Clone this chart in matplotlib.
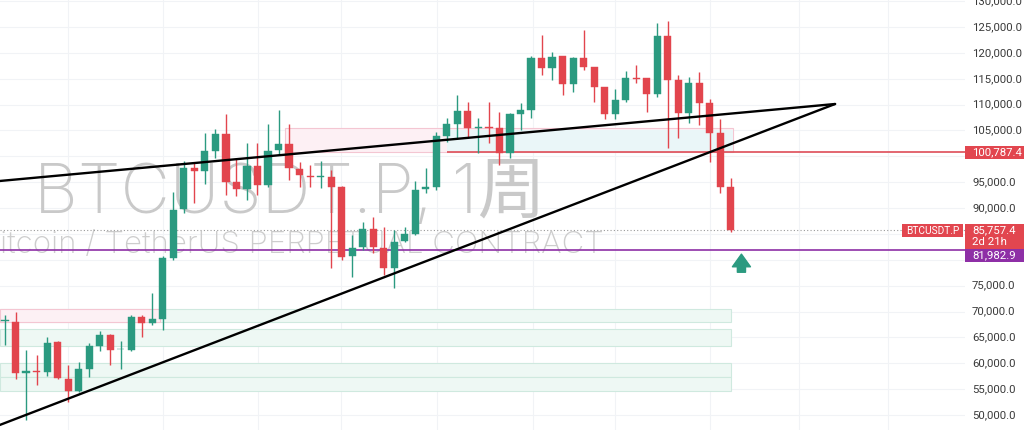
#!/usr/bin/env python3
"""
BTCUSDT.P weekly candles with trend lines and zones (TradingView style)
"""

import matplotlib
matplotlib.use('Agg')
import matplotlib.pyplot as plt
from matplotlib.patches import Rectangle
from matplotlib.transforms import blended_transform_factory
import numpy as np

# Weekly OHLC
opens = [68150, 68044, 58100, 58550, 58260, 64060, 57030, 54650, 58900, 63350,
         65420, 62670, 62570, 68890, 67740, 68570, 80300, 89770, 97690, 97170,
         101090, 104320, 95100, 93630, 98140, 94460, 101230, 102390, 97560, 96200,
         96010, 96070, 94020, 80740, 82420, 85900, 82230, 78360, 83640, 84990,
         93690, 94020, 103930, 106250, 108820, 105480, 105580, 105420, 100650, 108190,
         108960, 118950, 117080, 119300, 113980, 119010, 117210, 113310, 108190, 110890,
         115140, 115090, 111990, 123260, 114760, 108440, 114240, 110370, 104570, 94020]
highs = [69350, 69920, 62570, 61600, 65090, 64300, 59680, 60310, 63930, 66300,
         65670, 64310, 69340, 69340, 73530, 80700, 93170, 99100, 98970, 104510,
         105290, 108190, 99620, 102520, 102520, 106250, 109000, 106250, 98900, 98330,
         99100, 97360, 94270, 84800, 87370, 88340, 86350, 85770, 86400, 95240,
         97750, 104770, 107400, 111860, 110500, 107400, 110500, 108630, 108380, 110370,
         119400, 123450, 120170, 119400, 119200, 124420, 117270, 113400, 113020, 116550,
         117750, 115140, 125830, 126220, 115720, 115400, 116360, 111030, 107160, 95760]
lows = [63550, 56970, 49050, 55810, 57550, 56970, 52580, 54460, 57360, 62440,
        59680, 58900, 62380, 65140, 67400, 66440, 79970, 89050, 90980, 94660,
        99620, 92530, 92340, 91560, 92530, 94080, 100260, 95430, 94080, 94080,
        93880, 78420, 79970, 76680, 81900, 81320, 77070, 74500, 83450, 84800,
        92860, 93500, 102770, 103500, 103740, 100650, 102580, 98330, 99620, 105090,
        107350, 115720, 114760, 111860, 112440, 116690, 110560, 107220, 107280, 110560,
        114240, 108630, 111530, 101560, 103490, 106390, 106060, 98970, 92860, 85320]
closes = [68250, 58070, 58550, 58230, 63990, 57100, 54710, 58900, 63350, 65420,
          62570, 62770, 68890, 67850, 68570, 80300, 89630, 97690, 97170, 101090,
          104320, 95100, 93630, 98140, 94460, 101090, 102390, 97690, 96400, 96010,
          96110, 94080, 80610, 82230, 85900, 82420, 78360, 83500, 84900, 93500,
          94020, 103840, 106250, 108820, 105420, 105670, 105480, 100650, 108190, 108960,
          118950, 117080, 119260, 113980, 119010, 117270, 113350, 108090, 110890, 115090,
          115030, 111990, 123260, 114760, 108440, 114240, 110370, 104570, 94140, 85757.4]

last_price = 85757.4
resistance_price = 100787.4
support_price = 81982.9
countdown = '2d 21h'

price_ticks = [130000, 125000, 120000, 115000, 110000, 105000, 100000, 95000, 90000,
               85000, 80000, 75000, 70000, 65000, 60000, 55000, 50000]
hidden_ticks = [100000, 85000, 80000]  # covered by the price labels

# Trend lines: (week, price) start and the shared apex
upper_line = [(-0.5, 95240), (78.9, 110120)]
lower_line = [(-0.5, 48080), (78.9, 110120)]

# Zones: (week start, week end, price bottom, price top)
green_zones = [(-0.5, 69.0, 67990, 70500),
               (-0.5, 69.0, 63350, 66630),
               (-0.5, 69.0, 57360, 60060),
               (-0.5, 69.0, 54650, 57360)]
pink_zones = [(-0.5, 14.7, 67990, 70500),
              (26.6, 69.2, 100790, 105480)]
blue_zones = [(42.0, 69.2, 100790, 105100)]
resistance_start = 42.0

UP = '#2b9a80'
DOWN = '#e2454d'
LABEL_RED = '#e2464f'
PURPLE = '#8e2fa6'
PX = 193.27  # price per pixel, for sizing the label boxes
AXIS_FONT = ['Roboto', 'DejaVu Sans']


def draw_candles(ax):
    o = np.array(opens, dtype=float)
    h = np.array(highs, dtype=float)
    l = np.array(lows, dtype=float)
    c = np.array(closes, dtype=float)
    x = np.arange(len(o))
    colors = [UP if cc >= oo else DOWN for oo, cc in zip(o, c)]
    ax.vlines(x, l, h, colors=colors, lw=1.0, zorder=4)
    body_bottom = np.minimum(o, c)
    body_height = np.maximum(np.abs(c - o), 150)
    ax.bar(x, body_height, bottom=body_bottom, width=0.68, color=colors,
           edgecolor=colors, linewidth=0.3, zorder=5)


def draw_zones(ax):
    for x0, x1, p0, p1 in green_zones:
        ax.add_patch(Rectangle((x0, p0), x1 - x0, p1 - p0, facecolor='#eef8f4',
                               edgecolor='#cfe9df', lw=0.8, zorder=1))
    for x0, x1, p0, p1 in pink_zones:
        ax.add_patch(Rectangle((x0, p0), x1 - x0, p1 - p0, facecolor='#fdf0f4',
                               edgecolor='#f4c6d2', lw=0.8, zorder=1.2))
    for x0, x1, p0, p1 in blue_zones:
        ax.add_patch(Rectangle((x0, p0), x1 - x0, p1 - p0, facecolor='#eaf6f8',
                               edgecolor='none', zorder=1.3))


def label_box(ax, trans, x0, x1, top, bottom, fc):
    """Filled box in (axes x, price y) coordinates"""
    ax.add_patch(Rectangle((x0, bottom), x1 - x0, top - bottom, transform=trans,
                           facecolor=fc, edgecolor='none', clip_on=False, zorder=9))


def label_text(ax, trans, x, y, text, ha='left', size=8.2):
    ax.text(x, y, text, transform=trans, ha=ha, va='center', fontsize=size,
            color='white', clip_on=False, zorder=10, family=AXIS_FONT)


def main():
    plt.rcParams['font.family'] = ['Inter', 'Noto Sans CJK SC', 'DejaVu Sans']

    fig = plt.figure(figsize=(10.32, 4.30), dpi=100)
    ax = fig.add_axes([0, 0, 965 / 1032, 1])
    ax.set_xlim(-0.475, 91.25)
    ax.set_ylim(47110, 130220)
    for s in ax.spines.values():
        s.set_visible(False)
    ax.set_xticks([])
    ax.set_yticks([])

    # faint grid
    for p in price_ticks:
        ax.axhline(p, color='#f1f3f6', lw=0.8, zorder=0)
    for gx in [5.99, 15.02, 24.05, 31.94, 41.06, 50.19, 57.98, 67.0, 75.5, 83.9]:
        ax.axvline(gx, color='#f1f3f6', lw=0.8, zorder=0)

    # watermark
    ax.text(290 / 965, 0.548, 'BTCUSDT.P, 1周', transform=ax.transAxes,
            ha='center', va='center', fontsize=49, color='#c9c9c9',
            fontweight='light', zorder=0.5)
    ax.text(292 / 965, 0.430, 'Bitcoin / TetherUS PERPETUAL CONTRACT',
            transform=ax.transAxes, ha='center', va='center', fontsize=22.5,
            color='#cdcdcd', fontweight='light', zorder=0.5)

    draw_zones(ax)

    # horizontal levels
    ax.axhline(last_price, color='#9a9a9a', lw=0.8, ls=(0, (1, 2)), zorder=2)
    ax.axhline(support_price, color=PURPLE, lw=1.2, zorder=2)
    ax.hlines(resistance_price, resistance_start, 91.25, color='#e05a64', lw=1.3, zorder=2)

    # trend lines
    for line in (upper_line, lower_line):
        (x0, y0), (x1, y1) = line
        ax.plot([x0, x1], [y0, y1], color='black', lw=1.7, zorder=6,
                solid_capstyle='round')

    draw_candles(ax)

    # arrow under last candle
    ax.annotate('', xy=(70.0, 81100), xytext=(70.0, 77600),
                arrowprops=dict(arrowstyle='simple,head_length=0.7,head_width=1.0,tail_width=0.45',
                                color=UP, mutation_scale=13, shrinkA=0, shrinkB=0),
                zorder=7)

    # price axis
    trans = blended_transform_factory(ax.transAxes, ax.transData)
    for p in price_ticks:
        if p in hidden_ticks:
            continue
        ax.text(1.0073, p, f'{p:,.1f}', transform=trans, ha='left', va='center',
                fontsize=8.2, color='#3a3a3a', clip_on=False, family=AXIS_FONT)

    right = 1024 / 965
    # resistance label
    label_box(ax, trans, 1.0, right, resistance_price + 6.5 * PX,
              resistance_price - 6.5 * PX, LABEL_RED)
    label_text(ax, trans, 1.0073, resistance_price, f'{resistance_price:,.1f}')
    # last price + countdown
    top = last_price + 6 * PX
    label_box(ax, trans, 1.0, right, top, top - 25 * PX, LABEL_RED)
    label_text(ax, trans, 1.0073, last_price, f'{last_price:,.1f}')
    label_text(ax, trans, 1.0073, last_price - 12 * PX, countdown)
    # support label sits just below
    label_box(ax, trans, 1.0, right, top - 25 * PX, top - 38 * PX, PURPLE)
    label_text(ax, trans, 1.0073, top - 31.5 * PX, f'{support_price:,.1f}')
    # symbol tag
    label_box(ax, trans, 902 / 965, 963 / 965, top, top - 13 * PX, LABEL_RED)
    label_text(ax, trans, 932.5 / 965, top - 6.5 * PX, 'BTCUSDT.P', ha='center', size=7.3)

    fig.savefig('out.png', dpi=100, facecolor='white')


if __name__ == "__main__":
    main()
